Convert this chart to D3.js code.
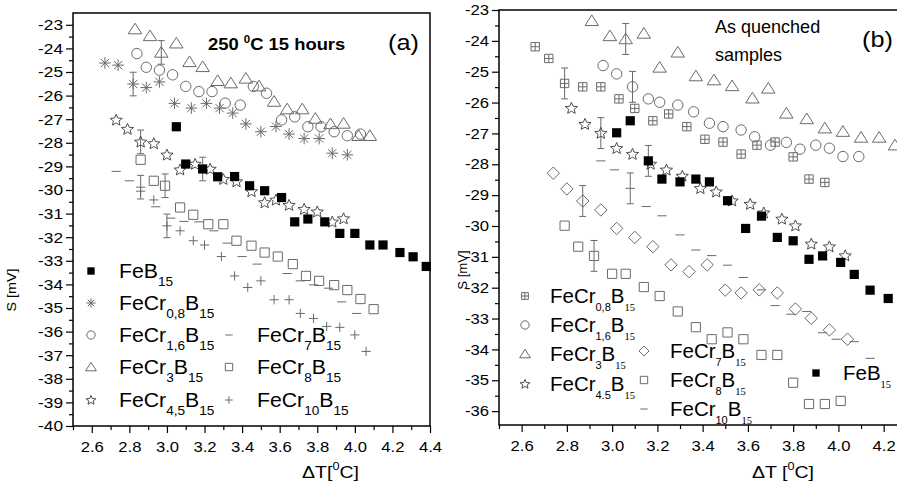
<!DOCTYPE html>
<html><head><meta charset="utf-8">
<script src="https://cdn.jsdelivr.net/npm/d3@7"></script>
<style>
body{margin:0;background:#fff}
svg{display:block}
text{font-family:"Liberation Sans",Arial,sans-serif;fill:#000}
</style>
</head><body>
<svg id="c" width="897" height="487"></svg>
<script>
// ---------------- DATA ----------------
const xTicksA = [2.6, 2.8, 3.0, 3.2, 3.4, 3.6, 3.8, 4.0, 4.2, 4.4];
const yTicksA = [-23, -24, -25, -26, -27, -28, -29, -30, -31, -32, -33, -34, -35, -36, -37, -38, -39, -40];
const xTicksB = [2.6, 2.8, 3.0, 3.2, 3.4, 3.6, 3.8, 4.0, 4.2];
const yTicksB = [-23, -24, -25, -26, -27, -28, -29, -30, -31, -32, -33, -34, -35, -36];
const errHalf = 0.5;

// Panel (a): 250 C 15 hours
const aFeB15_x = [3.05, 3.10, 3.19, 3.27, 3.36, 3.44, 3.52, 3.61, 3.68, 3.75, 3.84, 3.92, 4.00, 4.08, 4.15, 4.24, 4.31, 4.38];
const aFeB15_y = [-27.32, -28.90, -29.11, -29.44, -29.43, -29.82, -30.03, -30.32, -31.35, -31.23, -31.35, -31.84, -31.84, -32.33, -32.33, -32.65, -32.83, -33.24];
const aCr08_x = [2.67, 2.74, 2.82, 2.89, 2.96, 3.04, 3.13, 3.21, 3.28, 3.35, 3.42, 3.50, 3.58, 3.65, 3.73, 3.81, 3.88, 3.96];
const aCr08_y = [-24.62, -24.71, -25.51, -25.66, -25.42, -26.33, -26.53, -26.33, -26.53, -26.74, -27.20, -27.53, -27.31, -27.63, -27.82, -27.82, -28.44, -28.51];
const aCr16_x = [2.84, 2.89, 2.96, 3.03, 3.10, 3.17, 3.24, 3.31, 3.39, 3.46, 3.53, 3.61, 3.68, 3.75, 3.82, 3.89, 3.96, 4.03];
const aCr16_y = [-24.22, -24.80, -24.92, -25.12, -25.61, -25.83, -25.83, -26.32, -26.40, -25.61, -25.90, -27.03, -26.90, -27.32, -27.32, -27.53, -27.70, -27.63];
const aCr3_x = [2.83, 2.91, 2.97, 3.05, 3.12, 3.19, 3.27, 3.34, 3.42, 3.49, 3.57, 3.64, 3.72, 3.79, 3.87, 3.94, 4.02, 4.08];
const aCr3_y = [-23.18, -23.47, -24.17, -23.78, -24.57, -24.78, -25.37, -25.47, -25.27, -25.60, -26.25, -26.57, -26.57, -26.97, -27.20, -27.18, -27.70, -27.70];
const aCr45_x = [2.73, 2.79, 2.86, 2.93, 3.00, 3.07, 3.15, 3.23, 3.30, 3.37, 3.45, 3.52, 3.58, 3.65, 3.73, 3.80, 3.88, 3.94];
const aCr45_y = [-27.03, -27.42, -27.96, -28.03, -28.51, -29.14, -28.90, -29.11, -29.54, -29.64, -30.06, -30.53, -30.42, -30.64, -30.81, -30.92, -31.35, -31.21];
const aCr7_x = [2.73, 2.80, 2.86, 2.94, 3.02, 3.09, 3.17, 3.25, 3.32, 3.40, 3.48, 3.64, 3.71, 3.78, 3.86, 3.93, 4.01];
const aCr7_y = [-29.21, -29.61, -29.88, -30.71, -31.19, -31.33, -31.35, -31.73, -32.25, -32.82, -33.14, -33.54, -33.85, -34.02, -34.16, -34.74, -35.23];
const aCr8_x = [2.86, 2.93, 2.99, 3.07, 3.14, 3.22, 3.30, 3.37, 3.45, 3.52, 3.59, 3.67, 3.74, 3.81, 3.89, 3.96, 4.03, 4.10];
const aCr8_y = [-28.72, -29.61, -29.82, -30.74, -31.05, -31.45, -31.45, -32.15, -32.36, -32.65, -32.82, -33.14, -33.64, -33.85, -34.03, -34.24, -34.62, -35.05];
const aCr10_x = [2.86, 2.93, 3.00, 3.07, 3.14, 3.20, 3.29, 3.36, 3.43, 3.50, 3.57, 3.65, 3.71, 3.78, 3.85, 3.92, 4.00, 4.06];
const aCr10_y = [-30.05, -30.42, -31.52, -31.73, -32.15, -32.33, -32.82, -33.64, -34.13, -33.85, -34.65, -34.65, -35.23, -35.44, -35.78, -35.82, -36.14, -36.84];

// Panel (b): as quenched samples
const bFeB15_x = [3.02, 3.08, 3.16, 3.22, 3.30, 3.37, 3.43, 3.51, 3.59, 3.66, 3.73, 3.80, 3.87, 3.93, 4.01, 4.07, 4.14, 4.22];
const bFeB15_y = [-26.98, -26.59, -27.89, -28.48, -28.57, -28.48, -28.57, -29.18, -30.08, -29.68, -30.37, -30.48, -31.08, -30.97, -31.18, -31.57, -32.08, -32.35];
const bCr08_x = [2.66, 2.72, 2.79, 2.87, 2.95, 3.03, 3.10, 3.18, 3.25, 3.33, 3.41, 3.49, 3.57, 3.64, 3.72, 3.80, 3.87, 3.94];
const bCr08_y = [-24.19, -24.57, -25.38, -25.49, -25.49, -25.88, -26.19, -26.59, -26.37, -26.78, -27.19, -27.28, -27.67, -27.38, -27.28, -27.76, -28.48, -28.59];
const bCr16_x = [2.96, 3.02, 3.09, 3.16, 3.21, 3.29, 3.36, 3.43, 3.49, 3.57, 3.63, 3.70, 3.77, 3.83, 3.90, 3.96, 4.02, 4.09];
const bCr16_y = [-24.80, -25.07, -25.49, -25.88, -25.99, -26.08, -26.30, -26.67, -26.78, -26.89, -27.11, -27.38, -27.29, -27.51, -27.38, -27.48, -27.75, -27.75];
const bCr3_x = [2.91, 2.99, 3.06, 3.14, 3.21, 3.29, 3.37, 3.45, 3.53, 3.62, 3.69, 3.77, 3.86, 3.94, 4.02, 4.10, 4.18, 4.25];
const bCr3_y = [-23.35, -23.84, -23.94, -23.76, -24.86, -24.37, -25.14, -25.27, -25.46, -25.86, -25.54, -26.35, -26.53, -26.83, -26.94, -27.13, -27.13, -27.38];
const bCr45_x = [2.82, 2.88, 2.95, 3.02, 3.09, 3.17, 3.24, 3.31, 3.39, 3.46, 3.53, 3.61, 3.67, 3.75, 3.81, 3.88, 3.96, 4.03];
const bCr45_y = [-26.18, -26.70, -26.99, -27.48, -27.67, -27.99, -28.18, -28.38, -28.78, -28.89, -29.18, -29.29, -29.57, -29.77, -29.99, -30.58, -30.67, -30.96];
const bCr7_x = [2.74, 2.80, 2.87, 2.95, 3.02, 3.10, 3.18, 3.26, 3.34, 3.42, 3.50, 3.57, 3.65, 3.73, 3.81, 3.88, 3.96, 4.04];
const bCr7_y = [-28.29, -28.80, -29.19, -29.48, -30.08, -30.37, -30.67, -31.26, -31.48, -31.26, -32.08, -32.17, -32.07, -32.17, -32.69, -32.99, -33.37, -33.67];
const bCr8_x = [2.79, 2.85, 2.92, 3.00, 3.06, 3.14, 3.21, 3.29, 3.37, 3.44, 3.51, 3.58, 3.66, 3.73, 3.80, 3.87, 3.94, 4.01];
const bCr8_y = [-29.99, -30.67, -30.97, -31.55, -31.55, -31.98, -32.27, -32.77, -33.28, -33.67, -33.45, -33.67, -34.18, -34.18, -35.08, -35.77, -35.77, -35.67];
const bCr10_x = [2.95, 3.01, 3.08, 3.15, 3.22, 3.30, 3.37, 3.44, 3.51, 3.58, 3.66, 3.72, 3.79, 3.86, 3.93, 3.99, 4.07, 4.14];
const bCr10_y = [-27.89, -28.18, -28.78, -29.37, -29.67, -30.29, -30.78, -30.96, -31.27, -31.67, -32.07, -32.58, -32.86, -32.77, -33.46, -33.67, -33.75, -34.29];

// legend labels: [text, "n" normal | "s" subscript]
const labFeB15 = [["FeB", "n"], ["15", "s"]];
const labCr08 = [["FeCr", "n"], ["0,8", "s"], ["B", "n"], ["15", "s"]];
const labCr16 = [["FeCr", "n"], ["1,6", "s"], ["B", "n"], ["15", "s"]];
const labCr3 = [["FeCr", "n"], ["3", "s"], ["B", "n"], ["15", "s"]];
const labCr45a = [["FeCr", "n"], ["4,5", "s"], ["B", "n"], ["15", "s"]];
const labCr45b = [["FeCr", "n"], ["4.5", "s"], ["B", "n"], ["15", "s"]];
const labCr7 = [["FeCr", "n"], ["7", "s"], ["B", "n"], ["15", "s"]];
const labCr8 = [["FeCr", "n"], ["8", "s"], ["B", "n"], ["15", "s"]];
const labCr10 = [["FeCr", "n"], ["10", "s"], ["B", "n"], ["15", "s"]];

// ---------------- DRAWING ----------------
const svg = d3.select("#c");
const GRAY = "#6a6a6a", DARK = "#3a3a3a";
const SX = 1.15; // horizontal stretch of the original typography

function shapePath(type, s) {
  switch (type) {
    case "square": case "fsquare": return `M${-s},${-s}H${s}V${s}H${-s}Z`;
    case "gsquare": return `M${-s},${-s}H${s}V${s}H${-s}ZM0,${-s}V${s}M${-s},0H${s}`;
    case "circle": return `M${s},0A${s},${s} 0 1,1 ${-s},0A${s},${s} 0 1,1 ${s},0Z`;
    case "triangle": return `M0,${-s*1.05}L${s*1.2},${s*0.85}L${-s*1.2},${s*0.85}Z`;
    case "diamond": return `M0,${-s}L${s},0L0,${s}L${-s},0Z`;
    case "plus": return `M${-s},0H${s}M0,${-s}V${s}`;
    case "dash": return `M${-s},0H${s}`;
    case "asterisk": {
      let p = "";
      for (let k = 0; k < 4; k++) {
        const a = k * Math.PI / 4, c = Math.cos(a) * s, d = Math.sin(a) * s;
        p += `M${-c},${-d}L${c},${d}`;
      }
      return p;
    }
    case "star": {
      const pts = [];
      for (let k = 0; k < 10; k++) {
        const r = k % 2 ? s * 0.45 : s;
        const a = -Math.PI / 2 + k * Math.PI / 5;
        pts.push([Math.cos(a) * r, Math.sin(a) * r * 0.95 + s * 0.05]);
      }
      return "M" + pts.map(p => p.join(",")).join("L") + "Z";
    }
  }
}
const SIZE = {square: 4.6, fsquare: 4.6, gsquare: 4.2, circle: 5.2, triangle: 5.6, diamond: 6.2, plus: 4.6, dash: 4.6, asterisk: 5.8, star: 6.4};
function styleFor(type) {
  if (type === "fsquare") return {fill: "#000", stroke: "none", sw: 0};
  if (type === "star") return {fill: "none", stroke: DARK, sw: 0.9};
  return {fill: "none", stroke: GRAY, sw: 1};
}
function marker(g, type, x, y, scale) {
  const st = styleFor(type);
  g.append("path").attr("d", shapePath(type, SIZE[type] * (scale || 1)))
    .attr("transform", `translate(${x},${y})`)
    .attr("fill", st.fill).attr("stroke", st.stroke).attr("stroke-width", st.sw);
}

// rich text with horizontal stretch; parts: [str, "n"|"s"(sub)|"p"(sup)]
function rtext(g, x, y, parts, o) {
  o = o || {};
  const fs = o.fs || 19, sub = o.subFs || Math.round(fs * 0.68);
  const t = g.append("text").attr("transform", `translate(${x},${y}) scale(${o.sx || SX},1)`)
    .attr("font-size", fs).attr("text-anchor", o.anchor || "start");
  if (o.bold) t.attr("font-weight", "bold");
  let off = 0;
  parts.forEach(([s, k]) => {
    const ts = t.append("tspan").text(s);
    let target = 0;
    if (k === "s") {
      target = o.subDy || fs * 0.42;
      ts.attr("font-size", sub);
      if (o.serif15 && s === "15") ts.style("font-family", "'Liberation Serif','Times New Roman',serif").attr("font-size", sub - 0.5);
    } else if (k === "p") { target = -fs * 0.45; ts.attr("font-size", Math.round(fs * 0.62)); }
    ts.attr("dy", target - off);
    off = target;
  });
  return t;
}

function panel(cfg) {
  const g = svg.append("g");
  const {x, y} = cfg;
  const [x0, x1] = x.range(), [y0, y1] = y.range();
  const xa = g.append("g").attr("transform", `translate(0,${y0})`)
    .call(d3.axisBottom(x).tickValues(cfg.xTicks).tickFormat(d3.format(".1f")).tickSize(7).tickSizeOuter(0).tickPadding(5));
  g.append("g").attr("transform", `translate(0,${y0})`)
    .call(d3.axisBottom(x).tickValues(cfg.xMinor).tickFormat("").tickSize(4).tickSizeOuter(0));
  const ya = g.append("g").attr("transform", `translate(${x0},0)`)
    .call(d3.axisLeft(y).tickValues(cfg.yTicks).tickFormat(d => String(d)).tickSize(7).tickSizeOuter(0).tickPadding(3));
  g.append("g").attr("transform", `translate(${x0},0)`)
    .call(d3.axisLeft(y).tickValues(cfg.yMinor).tickFormat("").tickSize(4).tickSizeOuter(0));
  g.selectAll(".domain").remove();
  g.selectAll(".tick line").attr("stroke", "#000").attr("stroke-width", 1.2);
  xa.selectAll("text").attr("font-size", 14.5).attr("font-family", "Liberation Sans,Arial,sans-serif")
    .attr("fill", "#000").attr("transform", `scale(${SX},1)`).attr("dy", "0.95em");
  ya.selectAll("text").attr("font-size", cfg.yFs).attr("font-family", "Liberation Sans,Arial,sans-serif")
    .attr("fill", "#000").attr("x", -10 / SX).attr("transform", `scale(${SX},1)`);
  g.append("path").attr("d", `M${x0},${y1}H${x1}V${y0}H${x0}Z`)
    .attr("fill", "none").attr("stroke", "#000").attr("stroke-width", 1.5);

  const plot = g.append("g");
  cfg.series.forEach(s => {
    if (s.err != null) {
      const cx = x(s.xs[s.err]), ya_ = y(s.ys[s.err] + errHalf), yb_ = y(s.ys[s.err] - errHalf);
      plot.append("path").attr("d", `M${cx},${ya_}V${yb_}M${cx-3.5},${ya_}H${cx+3.5}M${cx-3.5},${yb_}H${cx+3.5}`)
        .attr("stroke", GRAY).attr("stroke-width", 1).attr("fill", "none");
    }
  });
  cfg.series.forEach(s => {
    s.xs.forEach((v, i) => marker(plot, s.type, x(v), y(s.ys[i])));
  });
  return g;
}

// ------- Panel (a) -------
const xA = d3.scaleLinear().domain([2.5, 4.4]).range([73, 430]);
const yA = d3.scaleLinear().domain([-40, -22.5]).range([426, 13]);
const seriesA = [
  {xs: aCr10_x, ys: aCr10_y, type: "plus", err: 2},
  {xs: aCr7_x, ys: aCr7_y, type: "dash", err: 2},
  {xs: aCr8_x, ys: aCr8_y, type: "square", err: 2},
  {xs: aCr16_x, ys: aCr16_y, type: "circle", err: null},
  {xs: aCr3_x, ys: aCr3_y, type: "triangle", err: 2},
  {xs: aCr08_x, ys: aCr08_y, type: "asterisk", err: 2},
  {xs: aCr45_x, ys: aCr45_y, type: "star", err: 2},
  {xs: aFeB15_x, ys: aFeB15_y, type: "fsquare", err: 2}
];
const gA = panel({
  x: xA, y: yA, xTicks: xTicksA, yTicks: yTicksA, yFs: 15,
  xMinor: d3.range(2.5, 4.401, 0.1).filter(v => !xTicksA.some(t => Math.abs(t - v) < 1e-6)),
  yMinor: d3.range(-39.5, -22.5, 1), series: seriesA
});
const legA = [
  [labFeB15, "fsquare", 91, 119, 271],
  [labCr08, "asterisk", 91, 119, 303],
  [labCr16, "circle", 91, 119, 335],
  [labCr3, "triangle", 91, 119, 367],
  [labCr45a, "star", 91, 119, 400],
  [labCr7, "dash", 229, 257, 335],
  [labCr8, "square", 229, 257, 367],
  [labCr10, "plus", 229, 257, 400]
];
legA.forEach(([lab, type, mx, tx, ty]) => {
  marker(gA, type, mx, ty, 0.8);
  rtext(gA, tx, ty + 7, lab, {fs: 19.5, subFs: 12.5, subDy: 8, sx: 1.09});
});
rtext(gA, 208, 50, [["250 ", "n"], ["0", "p"], ["C 15 hours", "n"]], {fs: 16, bold: true});
rtext(gA, 388, 50, [["(a)", "n"]], {fs: 22});
rtext(gA, 302, 478, [["ΔT[", "n"], ["0", "p"], ["C]", "n"]], {fs: 17});
gA.append("text").attr("transform", "translate(16,290) rotate(-90) scale(1.1,1)")
  .attr("text-anchor", "middle").attr("font-size", 13).text("S [mV]");

// ------- Panel (b) -------
const xB = d3.scaleLinear().domain([2.5, 4.3]).range([499, 906.3]);
const yB = d3.scaleLinear().domain([-36.45, -23]).range([425, 10]);
const seriesB = [
  {xs: bCr10_x, ys: bCr10_y, type: "dash", err: 2},
  {xs: bCr8_x, ys: bCr8_y, type: "square", err: 2},
  {xs: bCr7_x, ys: bCr7_y, type: "diamond", err: 2},
  {xs: bCr08_x, ys: bCr08_y, type: "gsquare", err: 2},
  {xs: bCr16_x, ys: bCr16_y, type: "circle", err: 2},
  {xs: bCr3_x, ys: bCr3_y, type: "triangle", err: 2},
  {xs: bCr45_x, ys: bCr45_y, type: "star", err: 2},
  {xs: bFeB15_x, ys: bFeB15_y, type: "fsquare", err: 2}
];
const gB = panel({
  x: xB, y: yB, xTicks: xTicksB, yTicks: yTicksB, yFs: 14.5,
  xMinor: d3.range(2.5, 4.301, 0.1).filter(v => !xTicksB.some(t => Math.abs(t - v) < 1e-6)),
  yMinor: d3.range(-35.5, -23, 1), series: seriesB
});
const legB = [
  [labCr08, "gsquare", 525, 550, 296],
  [labCr16, "circle", 525, 550, 325],
  [labCr3, "triangle", 525, 550, 354],
  [labCr45b, "star", 525, 550, 384],
  [labCr7, "diamond", 644, 670, 351],
  [labCr8, "square", 644, 670, 380],
  [labCr10, "dash", 644, 670, 409],
  [labFeB15, "fsquare", 816, 843, 373]
];
legB.forEach(([lab, type, mx, tx, ty]) => {
  marker(gB, type, mx, ty, 0.8);
  rtext(gB, tx, ty + 7, lab, {fs: 19.5, subFs: 10.5, subDy: 8, sx: 1.05, serif15: true});
});
rtext(gB, 715, 33, [["As quenched", "n"]], {fs: 17.5, sx: 1.03});
rtext(gB, 715, 61, [["samples", "n"]], {fs: 17.5, sx: 1.03});
rtext(gB, 862, 47, [["(b)", "n"]], {fs: 22});
rtext(gB, 752, 478, [["ΔT [", "n"], ["0", "p"], ["C]", "n"]], {fs: 17});
gB.append("text").attr("transform", "translate(467,270) rotate(-90) scale(1.1,1)")
  .attr("text-anchor", "middle").attr("font-size", 12).text("S [mV]");
</script>
</body></html>
